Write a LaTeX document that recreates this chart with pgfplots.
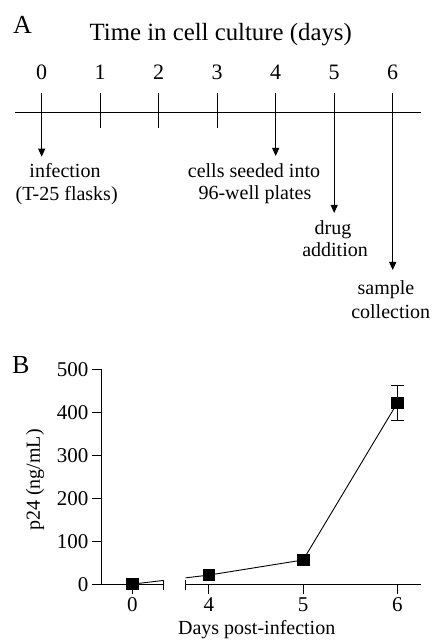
\documentclass[border=0pt]{standalone}
\usepackage{pgfplots}
\pgfplotsset{compat=1.18}
\usepackage{pgfplotstable}
\usepackage{fontspec}
\setmainfont{Liberation Serif}
\usetikzlibrary{arrows.meta}

% p24 per day; pos = place on the broken axis (day 0 drawn next to the break)
\pgfplotstableread{
day pos   p24 err
0   3.187 2   0
4   4     23  0
5   5     58  0
6   6     422 41
}\ptable

\newcommand{\fs}[1]{\fontsize{#1}{#1}\selectfont}

\begin{document}
\begin{tikzpicture}[x=1pt,y=1pt]
\useasboundingbox (0pt,0pt) rectangle (432pt,642pt);

% ---- panel A: timeline
\begin{axis}[at={(0pt,0pt)}, anchor=south west, scale only axis,
  width=432pt, height=642pt,
  xmin=-0.7128, xmax=6.6718, ymin=0, ymax=642,
  hide axis, clip=false]
  \addplot[black, line width=1pt] coordinates {(-0.456,529.3) (6.479,529.3)};
  \addplot[black, line width=1pt] coordinates {(1,548.7) (1,513.7)};
  \addplot[black, line width=1pt] coordinates {(2,548.7) (2,513.7)};
  \addplot[black, line width=1pt] coordinates {(3,548.7) (3,513.7)};
  \addplot[black, line width=1pt, -{Triangle[length=8pt,width=7pt]}] coordinates {(0,548.7) (0,485.3)};
  \addplot[black, line width=1pt, -{Triangle[length=8pt,width=7pt]}] coordinates {(4,548.7) (4,486)};
  \addplot[black, line width=1pt, -{Triangle[length=8pt,width=7pt]}] coordinates {(5,548.7) (5,429)};
  \addplot[black, line width=1pt, -{Triangle[length=8pt,width=7pt]}] coordinates {(6,548.7) (6,372)};
  \node[anchor=base west, inner sep=0pt, font=\fs{26}] at (axis cs:-0.49,608.7) {A};
  \node[anchor=base, inner sep=0pt, font=\fs{24.8}] at (axis cs:3.06,601.3) {Time in cell culture (days)};
  \node[anchor=base, inner sep=0pt, font=\fs{22}] at (axis cs:0,562.7) {0};
  \node[anchor=base, inner sep=0pt, font=\fs{22}] at (axis cs:1,562.7) {1};
  \node[anchor=base, inner sep=0pt, font=\fs{22}] at (axis cs:2,562.7) {2};
  \node[anchor=base, inner sep=0pt, font=\fs{22}] at (axis cs:3,562.7) {3};
  \node[anchor=base, inner sep=0pt, font=\fs{22}] at (axis cs:4,562.7) {4};
  \node[anchor=base, inner sep=0pt, font=\fs{22}] at (axis cs:5,562.7) {5};
  \node[anchor=base, inner sep=0pt, font=\fs{22}] at (axis cs:6,562.7) {6};
  \node[anchor=base, inner sep=0pt, font=\fs{20}] at (axis cs:0.398,464) {infection};
  \node[anchor=base, inner sep=0pt, font=\fs{20}] at (axis cs:0.427,441.5) {(T-25 flasks)};
  \node[anchor=base, inner sep=0pt, font=\fs{20}] at (axis cs:3.629,464) {cells seeded into};
  \node[anchor=base, inner sep=0pt, font=\fs{20}] at (axis cs:3.645,442) {96-well plates};
  \node[anchor=base, inner sep=0pt, font=\fs{20}] at (axis cs:4.98,407) {drug};
  \node[anchor=base, inner sep=0pt, font=\fs{20}] at (axis cs:5.014,385.3) {addition};
  \node[anchor=base, inner sep=0pt, font=\fs{20}] at (axis cs:5.886,347) {sample};
  \node[anchor=base, inner sep=0pt, font=\fs{20}] at (axis cs:5.966,323.7) {collection};
\end{axis}

% ---- panel B: broken x axis, left part (day 0)
\pgfplotsset{pB/.style={scale only axis, anchor=south west, height=215.7pt,
  ymin=0, ymax=500, axis x line*=bottom, tick align=outside,
  major tick length=9pt, axis line style={black, line width=1pt, -},
  tick style={black, line width=1pt},
  tick label style={font=\fs{21}}, /pgf/number format/assume math mode=true,
  extra x tick labels={}, extra x tick style={tick align=center, major tick length=10pt},
  clip mode=individual}}
\begin{axis}[pB, at={(101pt,57pt)}, width=62pt,
  xmin=2.855, xmax=3.513, axis y line*=left,
  xtick={3.187}, xticklabels={0}, ytick={0,100,...,500},
  extra x ticks={3.513}]
  \addplot[black, line width=0.9pt, mark=square*, mark size=5.8pt,
    skip coords between index={2}{4}] table[x=pos, y=p24] {\ptable};
\end{axis}
% right part (days 4-6)
\begin{axis}[pB, at={(185.7pt,57pt)}, width=235pt,
  xmin=3.753, xmax=6.248, axis y line=none, ytick=\empty,
  xtick={4,5,6}, extra x ticks={3.753}]
  \addplot[draw=none, mark=none, forget plot, skip coords between index={0}{3},
    error bars/.cd, y dir=both, y explicit,
    error bar style={draw=black, line width=1pt},
    error mark options={draw=black, rotate=90, mark size=6.5pt, line width=1pt}]
    table[x=pos, y=p24, y error=err] {\ptable};
  \addplot[black, line width=0.9pt, mark=square*, mark size=5.8pt]
    table[x=pos, y=p24] {\ptable};
\end{axis}
\node[anchor=base west, inner sep=0pt, font=\fs{26}] at (12pt,268.7pt) {B};
\node[rotate=90, font=\fs{20}] at (35pt,162pt) {p24 (ng/mL)};
\node[anchor=base, inner sep=0pt, font=\fs{20}] at (256.7pt,7pt) {Days post-infection};
\end{tikzpicture}
\end{document}
